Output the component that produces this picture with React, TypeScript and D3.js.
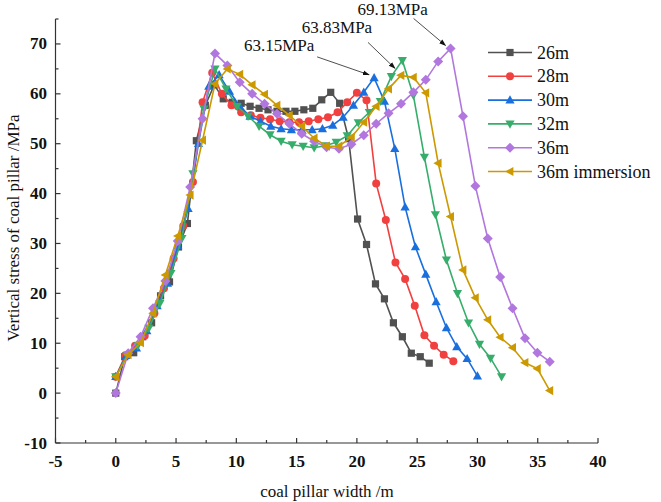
import React from "react";
import * as d3 from "d3";

// pillar widths (m) of each simulated case; each profile has 36 nodes evenly spaced across the pillar
const seriesNames = ["26m", "28m", "30m", "32m", "36m", "36m immersion"];
const pillarWidths = [26, 28, 30, 32, 36, 36];
const nodeCount = 36;

const stress26 = [0, 7.3, 8.1, 11.3, 14.1, 19.5, 22.3, 29.3, 34.0, 50.6, 57.7, 61.8, 59.0, 58.3, 58.1, 57.5, 57.1, 56.8, 56.5, 56.5, 56.5, 56.8, 57.1, 58.8, 60.3, 58.1, 51.0, 34.9, 29.8, 21.9, 18.9, 14.1, 11.3, 8.0, 7.3, 6.0];
const stress28 = [3.3, 7.6, 9.5, 11.5, 16.0, 21.0, 27.0, 33.5, 42.3, 58.3, 64.2, 60.0, 57.7, 56.3, 55.7, 55.2, 54.9, 54.5, 54.3, 54.3, 54.5, 54.9, 55.3, 56.3, 58.3, 60.2, 58.7, 42.0, 34.7, 26.2, 22.9, 17.5, 11.6, 9.5, 7.7, 6.4];
const stress30 = [3.3, 7.5, 9.0, 12.5, 17.5, 22.0, 29.5, 37.0, 50.0, 61.5, 63.8, 60.5, 57.5, 55.5, 54.5, 53.5, 53.0, 52.8, 52.8, 52.8, 53.0, 53.7, 55.3, 57.7, 60.3, 63.2, 58.5, 49.0, 37.3, 29.3, 23.8, 18.3, 13.1, 9.3, 6.9, 3.4];
const stress32 = [3.3, 7.5, 9.5, 13.0, 18.0, 24.0, 31.0, 44.0, 57.0, 65.0, 61.0, 57.5, 55.5, 53.5, 51.8, 50.5, 49.8, 49.5, 49.2, 49.6, 50.3, 51.6, 54.2, 56.3, 58.5, 63.5, 66.7, 59.7, 47.3, 35.8, 26.7, 20.0, 14.1, 9.8, 7.0, 3.3];
const stress36 = [0, 8.0, 11.3, 17.0, 22.5, 30.5, 41.3, 55.0, 68.1, 65.7, 62.3, 60.0, 58.0, 56.0, 54.0, 52.0, 50.5, 49.3, 49.0, 49.9, 51.7, 54.0, 56.1, 58.0, 60.3, 62.8, 66.5, 69.1, 55.5, 41.5, 31.0, 23.3, 17.0, 11.0, 8.1, 6.3];
const stress36imm = [3.3, 7.7, 10.1, 16.0, 23.7, 31.5, 39.7, 50.7, 62.0, 65.0, 63.9, 61.8, 59.9, 57.7, 55.7, 53.5, 51.1, 49.5, 49.5, 51.3, 54.3, 57.5, 61.0, 63.7, 63.3, 60.2, 46.1, 35.4, 24.7, 19.1, 14.7, 11.2, 9.1, 6.1, 4.9, 0.5];
const allStress = [stress26, stress28, stress30, stress32, stress36, stress36imm];

const xTicks = [-5, 0, 5, 10, 15, 20, 25, 30, 35, 40];
const yTicks = [-10, 0, 10, 20, 30, 40, 50, 60, 70];

// peak annotations: series index, node index, label
const peakSeries = [2, 5, 4];
const peakNodes = [25, 23, 27];
const peakLabels = ["63.15MPa", "63.83MPa", "69.13MPa"];

const colors = ["#515151", "#F14040", "#1A6FDF", "#37AD6B", "#B177DE", "#CC9900"];
const FONT = "'Liberation Serif', 'Times New Roman', 'DejaVu Serif', serif";

function marker(k: number, cx: number, cy: number, color: string, key: string) {
  const s = 3.6;
  switch (k) {
    case 0:
      return <rect key={key} x={cx - s} y={cy - s} width={2 * s} height={2 * s} fill={color} />;
    case 1:
      return <circle key={key} cx={cx} cy={cy} r={4} fill={color} />;
    case 2:
      return <path key={key} d={`M${cx},${cy - 4.8}L${cx + 4.6},${cy + 3.4}L${cx - 4.6},${cy + 3.4}Z`} fill={color} />;
    case 3:
      return <path key={key} d={`M${cx},${cy + 4.8}L${cx + 4.6},${cy - 3.4}L${cx - 4.6},${cy - 3.4}Z`} fill={color} />;
    case 4:
      return <path key={key} d={`M${cx},${cy - 5}L${cx + 5},${cy}L${cx},${cy + 5}L${cx - 5},${cy}Z`} fill={color} />;
    default:
      return <path key={key} d={`M${cx - 4.8},${cy}L${cx + 3.4},${cy - 4.6}L${cx + 3.4},${cy + 4.6}Z`} fill={color} />;
  }
}

export default function App() {
  const W = 661, H = 502;
  const x = d3.scaleLinear().domain([-5, 40]).range([55.5, 598]);
  const y = d3.scaleLinear().domain([-10, 75]).range([443, 19]);

  const series = allStress.map((vals, si) =>
    vals.map((v, i) => ({ x: (i * pillarWidths[si]) / (nodeCount - 1), y: v }))
  );
  const line = d3.line<{ x: number; y: number }>().x((d) => x(d.x)).y((d) => y(d.y));

  const xMinor = d3.range(-2.5, 40, 5);
  const yMinor = d3.range(-5, 76, 10);

  const axisColor = "#333";

  const annotations = peakSeries.map((si, k) => {
    const p = series[si][peakNodes[k]];
    return { px: x(p.x), py: y(p.y), label: peakLabels[k] };
  });
  // offsets (tip, start, text) relative to the peak marker
  const annoOffsets = [
    { tip: [-5, -3], start: [-57, -21], text: [-95, -27] },
    { tip: [-6, -7], start: [-33, -33], text: [-64, -42] },
    { tip: [-5, -3], start: [-37, -30], text: [-58, -33] },
  ];

  return (
    <svg width={W} height={H} style={{ display: "block", position: "absolute", left: 0, top: 0, fontFamily: FONT }}>
      <defs>
        <marker id="arr" viewBox="0 0 10 10" refX="9" refY="5" markerWidth="7" markerHeight="7" orient="auto-start-reverse" markerUnits="userSpaceOnUse">
          <path d="M0,1.5L10,5L0,8.5Z" fill="#111" />
        </marker>
      </defs>
      <rect width={W} height={H} fill="#fff" />

      {/* axes */}
      <line x1={x(-5)} x2={x(40)} y1={y(-10)} y2={y(-10)} stroke={axisColor} strokeWidth={1.2} />
      <line x1={x(-5)} x2={x(-5)} y1={y(-10)} y2={y(75)} stroke={axisColor} strokeWidth={1.2} />
      {xTicks.map((t) => (
        <g key={"xt" + t}>
          <line x1={x(t)} x2={x(t)} y1={y(-10)} y2={y(-10) - 5} stroke={axisColor} strokeWidth={1.2} />
          <text x={x(t)} y={467} textAnchor="middle" fontSize={17} fontWeight="bold" fill="#111" style={{ fontFamily: FONT }}>{t}</text>
        </g>
      ))}
      {xMinor.map((t) => (
        <line key={"xm" + t} x1={x(t)} x2={x(t)} y1={y(-10)} y2={y(-10) - 3} stroke={axisColor} strokeWidth={1.2} />
      ))}
      {yTicks.map((t) => (
        <g key={"yt" + t}>
          <line x1={x(-5)} x2={x(-5) + 5} y1={y(t)} y2={y(t)} stroke={axisColor} strokeWidth={1.2} />
          <text x={47} y={y(t) + 5.5} textAnchor="end" fontSize={17} fontWeight="bold" fill="#111" style={{ fontFamily: FONT }}>{t}</text>
        </g>
      ))}
      {yMinor.map((t) => (
        <line key={"ym" + t} x1={x(-5)} x2={x(-5) + 3} y1={y(t)} y2={y(t)} stroke={axisColor} strokeWidth={1.2} />
      ))}

      <text x={327} y={497} textAnchor="middle" fontSize={17} fill="#111" style={{ fontFamily: FONT }}>coal pillar width /m</text>
      <text transform={`translate(19,228) rotate(-90)`} textAnchor="middle" fontSize={17} fill="#111" style={{ fontFamily: FONT }}>
        Vertical stress of coal pillar /MPa
      </text>

      {/* series */}
      {series.map((pts, si) => (
        <g key={"s" + si}>
          <path d={line(pts) || ""} fill="none" stroke={colors[si]} strokeWidth={1.6} />
          {pts.map((p, i) => marker(si, x(p.x), y(p.y), colors[si], `m${si}-${i}`))}
        </g>
      ))}

      {/* annotations */}
      {annotations.map((a, k) => {
        const o = annoOffsets[k];
        return (
          <g key={"an" + k}>
            <line x1={a.px + o.start[0]} y1={a.py + o.start[1]} x2={a.px + o.tip[0]} y2={a.py + o.tip[1]} stroke="#222" strokeWidth={0.8} markerEnd="url(#arr)" />
            <text x={a.px + o.text[0]} y={a.py + o.text[1]} textAnchor="middle" fontSize={17} fill="#111" style={{ fontFamily: FONT }}>{a.label}</text>
          </g>
        );
      })}

      {/* legend */}
      {seriesNames.map((name, si) => {
        const ly = 52.5 + si * 23.8;
        return (
          <g key={"lg" + si}>
            <line x1={488} x2={532} y1={ly} y2={ly} stroke={colors[si]} strokeWidth={1.6} />
            {marker(si, 510, ly, colors[si], "lm" + si)}
            <text x={537} y={ly + 6} fontSize={18} fill="#111" style={{ fontFamily: FONT }}>{name}</text>
          </g>
        );
      })}
    </svg>
  );
}
